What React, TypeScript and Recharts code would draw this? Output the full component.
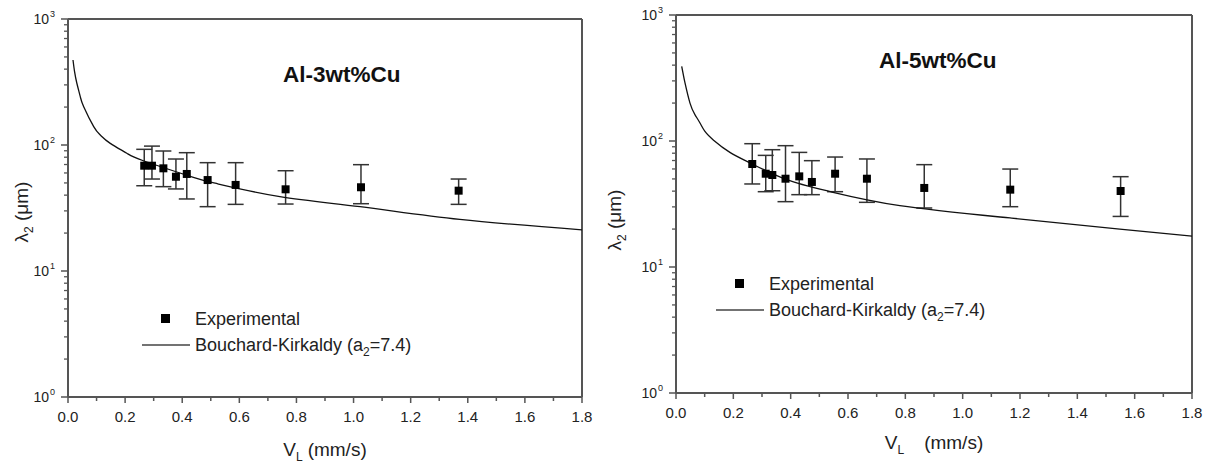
import React from 'react';
import { ComposedChart, Scatter, XAxis, YAxis, ErrorBar, ReferenceLine, Legend } from 'recharts';

// ---------- tick values ----------
const xTickValues = [0, 0.1, 0.2, 0.3, 0.4, 0.5, 0.6, 0.7, 0.8, 0.9, 1.0, 1.1, 1.2, 1.3, 1.4, 1.5, 1.6, 1.7, 1.8];
const yMajorTicks = [1, 10, 100, 1000];
const yMajorExponents = ['0', '1', '2', '3'];
const yMinorTicks = [2, 3, 4, 5, 6, 7, 8, 9, 20, 30, 40, 50, 60, 70, 80, 90, 200, 300, 400, 500, 600, 700, 800, 900];

// ---------- Al-3wt%Cu ----------
const cu3V = [0.267, 0.294, 0.334, 0.378, 0.416, 0.489, 0.587, 0.762, 1.026, 1.368];
const cu3Lambda = [68.5, 68.5, 65.3, 56.0, 58.9, 52.7, 48.2, 44.5, 46.2, 43.4];
const cu3High = [92.4, 98.0, 89.6, 77.4, 86.9, 72.4, 72.4, 62.5, 69.8, 53.7];
const cu3Low = [47.5, 53.7, 46.7, 44.8, 37.3, 32.4, 33.8, 34.0, 34.2, 33.8];
const cu3CurveV = [0.0175, 0.023, 0.031, 0.043, 0.055, 0.09, 0.113, 0.148, 0.206, 0.264, 0.439, 0.527, 0.742, 1.023, 1.372, 1.8];
const cu3CurveLambda = [473, 382, 309, 242, 201, 140, 120, 103, 86, 75, 55.4, 49, 38.9, 32.4, 25.7, 21.2];

// ---------- Al-5wt%Cu ----------
const cu5V = [0.266, 0.313, 0.336, 0.382, 0.43, 0.474, 0.555, 0.666, 0.866, 1.166, 1.551];
const cu5Lambda = [65.7, 55.0, 53.7, 50.2, 52.4, 47.3, 55.0, 50.2, 42.4, 41.1, 40.1];
const cu5High = [95.2, 76.9, 85.3, 91.8, 81.2, 69.8, 74.6, 72.0, 64.9, 59.9, 52.1];
const cu5Low = [45.6, 39.6, 40.3, 33.0, 37.5, 37.5, 39.6, 32.6, 29.4, 30.1, 25.2];
const cu5CurveV = [0.0199, 0.0255, 0.0314, 0.0488, 0.066, 0.0837, 0.101, 0.13, 0.188, 0.264, 0.386, 0.535, 0.781, 1.165, 1.548, 1.8];
const cu5CurveLambda = [391, 336, 289, 200, 162, 139, 119, 102, 81.2, 66, 49.3, 39.8, 30.7, 24.5, 20, 17.6];

const FONT = '"Liberation Sans", Arial, Helvetica, sans-serif';
const AXIS = '#555';
const TEXT = '#222';

const buildExp = (v: number[], l: number[], hi: number[], lo: number[]) =>
  v.map((x, i) => ({ v: x, y: l[i], err: [l[i] - lo[i], hi[i] - l[i]] }));
const buildCurve = (v: number[], l: number[]) => v.map((x, i) => ({ v: x, y: l[i] }));

const allYTicks = [...yMajorTicks, ...yMinorTicks].sort((a, b) => a - b);

const YTick = (props: any) => {
  const { x, y, payload } = props;
  const v = payload.value;
  const idx = yMajorTicks.indexOf(v);
  if (idx >= 0) {
    return (
      <g>
        <line x1={x - 7} x2={x} y1={y} y2={y} stroke={AXIS} strokeWidth={1.5} />
        <text x={x - 19} y={y + 5} textAnchor="end" fontSize={14} fill={TEXT} fontFamily={FONT}>10</text>
        <text x={x - 18} y={y - 2} fontSize={9} fill={TEXT} fontFamily={FONT}>{yMajorExponents[idx]}</text>
      </g>
    );
  }
  return <line x1={x - 4} x2={x} y1={y} y2={y} stroke={AXIS} strokeWidth={1.3} />;
};

const XTick = (props: any) => {
  const { x, y, payload } = props;
  const v = payload.value as number;
  const major = Math.round(v * 10) % 2 === 0;
  return (
    <g>
      <line x1={x} x2={x} y1={y} y2={y + (major ? 6 : 4)} stroke={AXIS} strokeWidth={1.5} />
      {major && (
        <text x={x} y={y + 25} textAnchor="middle" fontSize={15} fill={TEXT} fontFamily={FONT}>
          {v.toFixed(1)}
        </text>
      )}
    </g>
  );
};

type PanelProps = {
  left: number;
  width: number;
  top: number;
  right: number;
  yAxisWidth: number;
  xAxisHeight: number;
  exp: any[];
  curve: any[];
  title: string;
  titleX: number;
  titleY: number;
  legendX: number;
  legendY: number;
  yLabelX: number;
  yLabelY: number;
  xLabelY: number;
  xLabelGap: number;
};

const LegendBox = ({ textX }: { textX: number }) => (
  <svg width={360} height={64} style={{ overflow: 'visible' }}>
    <rect x={textX - 34} y={14} width={9} height={9} fill="#000" />
    <text x={textX} y={25} fontSize={18} fill={TEXT} fontFamily={FONT}>Experimental</text>
    <line x1={textX - 53} x2={textX - 5} y1={45} y2={45} stroke="#444" strokeWidth={1.6} />
    <text x={textX} y={51} fontSize={18} fill={TEXT} fontFamily={FONT}>
      Bouchard-Kirkaldy (a
      <tspan fontSize={12} dy={5}>2</tspan>
      <tspan dy={-5}>=7.4)</tspan>
    </text>
  </svg>
);

const Panel = (p: PanelProps) => {
  const height = 464;
  return (
    <div style={{ position: 'absolute', left: p.left, top: 0, width: p.width, height }}>
      <ComposedChart
        width={p.width}
        height={height}
        margin={{ top: p.top, right: p.right, bottom: 0, left: 0 }}
      >
        <XAxis
          dataKey="v"
          type="number"
          domain={[0, 1.8]}
          ticks={xTickValues}
          interval={0}
          height={p.xAxisHeight}
          tickSize={0}
          tickMargin={0}
          tick={<XTick />}
          axisLine={{ stroke: AXIS, strokeWidth: 2 }}
          allowDataOverflow
          label={{
            content: (lp: any) => {
              const vb = lp.viewBox;
              const cx = vb.x + vb.width / 2;
              return (
                <text x={cx} y={p.xLabelY} textAnchor="middle" fontSize={19} fill={TEXT} fontFamily={FONT}>
                  V<tspan fontSize={12} dy={5}>L</tspan>
                  <tspan dy={-5} dx={p.xLabelGap}>(mm/s)</tspan>
                </text>
              );
            },
          }}
        />
        <YAxis
          dataKey="y"
          type="number"
          scale="log"
          domain={[1, 1000]}
          ticks={allYTicks}
          interval={0}
          width={p.yAxisWidth}
          tickSize={0}
          tickMargin={0}
          tick={<YTick />}
          axisLine={{ stroke: AXIS, strokeWidth: 2 }}
          allowDataOverflow
          label={{
            content: () => (
              <text
                x={p.yLabelX}
                y={p.yLabelY}
                textAnchor="middle"
                fontSize={19}
                fill={TEXT}
                fontFamily={FONT}
                transform={`rotate(-90 ${p.yLabelX} ${p.yLabelY})`}
              >
                λ<tspan fontSize={12} dy={5}>2</tspan>
                <tspan dy={-5}> (μm)</tspan>
              </text>
            ),
          }}
        />
        <ReferenceLine y={1000} stroke={AXIS} strokeWidth={2} />
        <ReferenceLine x={1.8} stroke={AXIS} strokeWidth={2} />
        <Scatter
          name="Bouchard-Kirkaldy"
          data={p.curve}
          line={{ stroke: '#111', strokeWidth: 1.3 }}
          lineType="joint"
          lineJointType="natural"
          shape={() => <g />}
          isAnimationActive={false}
        />
        <Scatter name="Experimental" data={p.exp} fill="#000" shape="square" isAnimationActive={false}>
          <ErrorBar dataKey="err" direction="y" width={8} stroke="#333" strokeWidth={1.5} isAnimationActive={false} />
        </Scatter>
        <Legend
          layout="vertical"
          align="center"
          verticalAlign="middle"
          wrapperStyle={{ left: p.legendX, top: p.legendY, width: 360, height: 64 }}
          content={() => <LegendBox textX={65} />}
        />
      </ComposedChart>
      <svg width={p.width} height={height} style={{ position: 'absolute', left: 0, top: 0, pointerEvents: 'none' }}>
        <text x={p.titleX} y={p.titleY} fontSize={22.5} fontWeight="bold" fill="#111" fontFamily={FONT}>
          {p.title}
        </text>
      </svg>
    </div>
  );
};

export default function App() {
  return (
    <div
      style={{
        position: 'absolute',
        left: 0,
        top: 0,
        width: 1213,
        height: 464,
        background: '#fff',
        fontFamily: FONT,
        overflow: 'hidden',
      }}
    >
      <Panel
        left={0}
        width={600}
        top={19}
        right={18}
        yAxisWidth={68}
        xAxisHeight={67}
        exp={buildExp(cu3V, cu3Lambda, cu3High, cu3Low)}
        curve={buildCurve(cu3CurveV, cu3CurveLambda)}
        title="Al-3wt%Cu"
        titleX={283}
        titleY={82}
        legendX={130}
        legendY={300}
        yLabelX={28}
        yLabelY={212}
        xLabelY={456}
        xLabelGap={5}
      />
      <Panel
        left={600}
        width={613}
        top={15}
        right={21}
        yAxisWidth={76}
        xAxisHeight={71}
        exp={buildExp(cu5V, cu5Lambda, cu5High, cu5Low)}
        curve={buildCurve(cu5CurveV, cu5CurveLambda)}
        title="Al-5wt%Cu"
        titleX={279}
        titleY={68}
        legendX={104}
        legendY={265}
        yLabelX={21}
        yLabelY={220}
        xLabelY={449}
        xLabelGap={20}
      />
    </div>
  );
}
